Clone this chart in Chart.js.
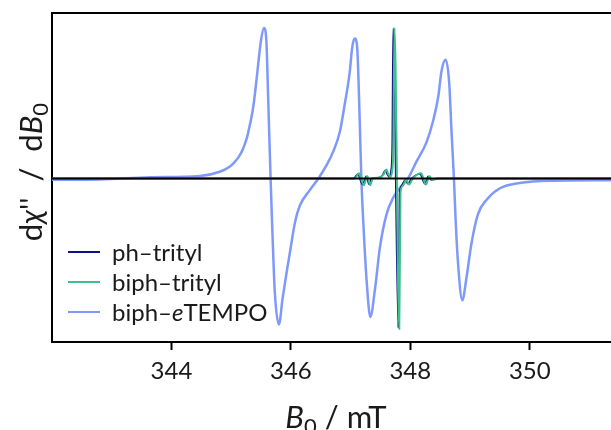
<!DOCTYPE html>
<html>
<head>
<meta charset="utf-8">
<script src="https://cdn.jsdelivr.net/npm/chart.js@4.4.1/dist/chart.umd.min.js"></script>
<style>
  html, body { margin: 0; padding: 0; background: #fff; }
</style>
</head>
<body>
<canvas id="chart" width="611" height="430"></canvas>
<script>
// tick positions on the field axis (mT)
const xTicks = [344, 346, 348, 350];

// biph-eTEMPO : three nitroxide lines
const tempoField = [342.00, 342.80, 343.64, 344.48, 344.81, 344.98, 345.05, 345.12, 345.18, 345.23,
  345.27, 345.31, 345.36, 345.40, 345.45, 345.50, 345.55, 345.59, 345.62, 345.66,
  345.69, 345.73, 345.80, 345.86, 345.93, 345.98, 346.07, 346.15, 346.32, 346.46,
  346.60, 346.71, 346.82, 346.90, 346.98, 347.03, 347.07, 347.11, 347.15, 347.18,
  347.22, 347.27, 347.33, 347.41, 347.49, 347.60, 347.71, 347.82, 347.96, 348.10,
  348.27, 348.38, 348.47, 348.52, 348.59, 348.65, 348.69, 348.73, 348.76, 348.80,
  348.87, 348.94, 349.02, 349.13, 349.28, 349.50, 349.83, 350.39, 351.36];
const tempoSignal = [-0.008, -0.006, 0.008, 0.017, 0.045, 0.08, 0.105, 0.14, 0.18, 0.23,
  0.28, 0.35, 0.45, 0.57, 0.75, 0.92, 1.0, 0.91, 0.53, 0,
  -0.35, -0.75, -0.97, -0.8, -0.62, -0.5, -0.29, -0.18, -0.076, 0,
  0.09, 0.18, 0.31, 0.49, 0.69, 0.88, 0.93, 0.87, 0.42, 0,
  -0.35, -0.69, -0.92, -0.73, -0.46, -0.24, -0.13, -0.065, 0, 0.11,
  0.24, 0.38, 0.55, 0.71, 0.79, 0.64, 0.31, 0, -0.29, -0.57,
  -0.81, -0.66, -0.44, -0.24, -0.14, -0.065, -0.03, -0.015, -0.012];

// ph-trityl
const phField = [342.00, 347.05, 347.12, 347.17, 347.20, 347.26, 347.31, 347.35, 347.45, 347.53,
  347.58, 347.61, 347.645, 347.675, 347.695, 347.712, 347.797, 347.818, 347.85, 347.91,
  347.96, 348.02, 348.16, 348.24, 348.30, 348.35, 348.45, 351.36];
const phSignal = [0, 0, 0.03, -0.02, -0.04, 0.015, -0.04, 0, 0.005, 0.02,
  0.055, 0.03, 0.01, 0.05, 0.2, 1.0, -0.99, -0.1, -0.05, -0.01,
  -0.035, 0, 0.03, -0.035, 0.015, -0.01, 0, 0];

// biph-trityl
const biphField = [342.00, 347.07, 347.14, 347.19, 347.22, 347.28, 347.33, 347.37, 347.47, 347.55,
  347.60, 347.63, 347.665, 347.695, 347.715, 347.735, 347.815, 347.835, 347.87, 347.93,
  347.98, 348.04, 348.18, 348.26, 348.32, 348.37, 348.47, 351.36];
const biphSignal = [0, 0, 0.035, -0.02, -0.045, 0.015, -0.045, 0, 0.005, 0.025,
  0.06, 0.03, 0.01, 0.05, 0.2, 1.0, -1.0, -0.1, -0.05, -0.01,
  -0.04, 0, 0.035, -0.04, 0.015, -0.01, 0, 0];

const baseField = [342.00, 351.36];
const baseSignal = [0, 0];

const NAVY = "#0e0e88", GREEN = "#3fbf8a", BLUE = "#7f99fb";
const zip = (xs, ys) => xs.map((x, i) => ({ x: x, y: ys[i] }));

Chart.defaults.font.family = "Lato";
Chart.defaults.color = "#1a1a1a";

// mixed-style text (italics, subscripts)
function drawRuns(ctx, runs, x, y, centered) {
  let w = 0;
  runs.forEach((r) => { ctx.font = r.f; w += ctx.measureText(r.t).width; });
  let cx = centered ? x - w / 2 : x;
  runs.forEach((r) => {
    ctx.font = r.f;
    ctx.fillText(r.t, cx, y + (r.dy || 0));
    cx += ctx.measureText(r.t).width;
  });
}

const extras = {
  id: "extras",
  afterDraw(chart) {
    const ctx = chart.ctx, a = chart.chartArea;
    ctx.save();
    // top spine
    ctx.strokeStyle = "#000";
    ctx.lineWidth = 2;
    ctx.beginPath();
    ctx.moveTo(a.left - 1, a.top);
    ctx.lineTo(a.right, a.top);
    ctx.stroke();

    ctx.fillStyle = "#1a1a1a";
    ctx.textBaseline = "alphabetic";
    const N = "31px Lato", I = "italic 31px Lato", S = "22px Lato";

    // x title
    drawRuns(ctx, [
      { t: "B", f: I }, { t: "0", f: S, dy: 6 }, { t: " / mT", f: N }
    ], 336, 428, true);

    // y title
    ctx.save();
    ctx.translate(42, 172);
    ctx.rotate(-Math.PI / 2);
    drawRuns(ctx, [
      { t: "d", f: N }, { t: "\u03c7", f: I }, { t: "''", f: N },
      { t: "  /  d", f: N }, { t: "B", f: I }, { t: "0", f: S, dy: 6 }
    ], 0, 0, true);
    ctx.restore();

    // legend
    const items = [
      { c: NAVY, runs: [{ t: "ph\u2013trityl" }] },
      { c: GREEN, runs: [{ t: "biph\u2013trityl" }] },
      { c: BLUE, runs: [{ t: "biph\u2013" }, { t: "e", it: true }, { t: "TEMPO" }] }
    ];
    ctx.textBaseline = "middle";
    items.forEach((it, i) => {
      const y = 252 + i * 30;
      ctx.strokeStyle = it.c;
      ctx.lineWidth = 2;
      ctx.beginPath();
      ctx.moveTo(68, y);
      ctx.lineTo(100, y);
      ctx.stroke();
      drawRuns(ctx, it.runs.map((r) => ({ t: r.t, f: (r.it ? "italic " : "") + "24px Lato" })), 112, y + 1, false);
    });
    ctx.restore();
  }
};

new Chart(document.getElementById("chart"), {
  type: "line",
  data: {
    datasets: [
      {
        label: "baseline",
        data: zip(baseField, baseSignal),
        borderColor: "#000",
        borderWidth: 2,
        order: 0
      },
      {
        label: "biph\u2013trityl",
        data: zip(biphField, biphSignal),
        borderColor: GREEN,
        borderWidth: 2,
        cubicInterpolationMode: "monotone",
        order: 1
      },
      {
        label: "ph\u2013trityl",
        data: zip(phField, phSignal),
        borderColor: NAVY,
        borderWidth: 1.5,
        cubicInterpolationMode: "monotone",
        order: 2
      },
      {
        label: "biph\u2013eTEMPO",
        data: zip(tempoField, tempoSignal),
        borderColor: BLUE,
        borderWidth: 2.5,
        cubicInterpolationMode: "monotone",
        order: 3
      }
    ]
  },
  options: {
    responsive: false,
    animation: false,
    layout: { padding: { top: 13, left: 0, right: 0, bottom: 0 } },
    elements: { point: { radius: 0 }, line: { fill: false } },
    plugins: { legend: { display: false }, tooltip: { enabled: false } },
    scales: {
      x: {
        type: "linear",
        min: 342.0,
        max: 351.36,
        afterBuildTicks: (s) => { s.ticks = xTicks.map((v) => ({ value: v })); },
        afterFit: (s) => { s.height = 88; },
        grid: { display: true, drawOnChartArea: false, drawTicks: true, tickLength: 8, tickWidth: 2, tickColor: "#000" },
        border: { display: true, color: "#000", width: 2 },
        ticks: { font: { size: 24 }, padding: 7, maxRotation: 0, callback: (v) => v }
      },
      y: {
        min: -1.087,
        max: 1.1,
        afterFit: (s) => { s.width = 52; },
        grid: { display: false },
        border: { display: true, color: "#000", width: 2 },
        ticks: { display: false }
      }
    }
  },
  plugins: [extras]
});
</script>
</body>
</html>
